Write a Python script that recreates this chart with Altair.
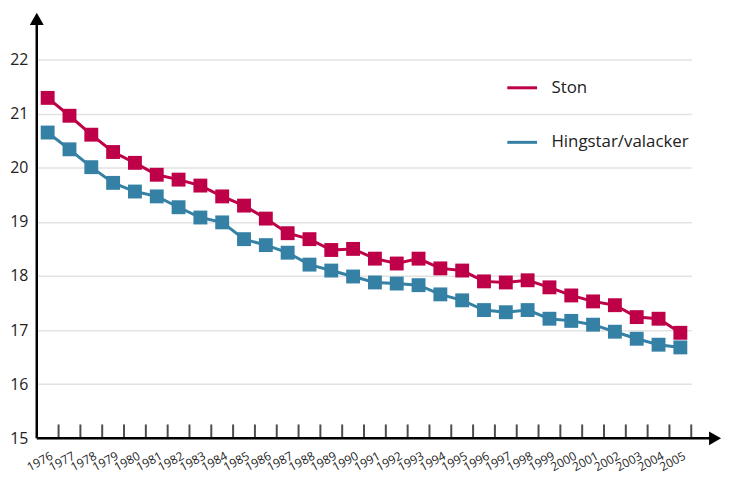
import altair as alt
import pandas as pd

years = [str(y) for y in range(1976, 2006)]
ston = [21.29, 20.96, 20.61, 20.29, 20.09, 19.87, 19.78, 19.67, 19.47, 19.30,
        19.06, 18.79, 18.68, 18.48, 18.50, 18.32, 18.23, 18.32, 18.14, 18.10,
        17.90, 17.88, 17.92, 17.79, 17.64, 17.53, 17.46, 17.24, 17.21, 16.95]
hingst = [20.65, 20.34, 20.01, 19.72, 19.56, 19.47, 19.27, 19.08, 18.99, 18.68,
          18.57, 18.43, 18.21, 18.10, 17.99, 17.88, 17.86, 17.83, 17.66, 17.55,
          17.37, 17.33, 17.37, 17.21, 17.17, 17.10, 16.97, 16.84, 16.73, 16.68]
series = ["Ston", "Hingstar/valacker"]
colors = ["#BE0048", "#3580A5"]
y_ticks = [15, 16, 17, 18, 19, 20, 21, 22]

W, H = 660, 417
FONT = "Open Sans"

rows = []
for s, vals in zip(series, [ston, hingst]):
    for yr, v in zip(years, vals):
        rows.append({"year": yr, "value": v, "kon": s})
df = pd.DataFrame(rows)
ydf = pd.DataFrame({"year": years})
one = pd.DataFrame({"a": [0]})

x_enc = alt.X("year:O", sort=years,
              scale=alt.Scale(type="band", paddingInner=0, paddingOuter=0),
              axis=alt.Axis(title=None, labelAngle=-28, labelAlign="right",
                            labelBaseline="top", labelPadding=12, labelOffset=2,
                            ticks=False, domain=False, grid=False,
                            labelFontSize=12, labelColor="#222222", labelFont=FONT))
y_enc = alt.Y("value:Q",
              scale=alt.Scale(domain=[15, 22.64], nice=False, zero=False),
              axis=alt.Axis(title=None, values=y_ticks, format="d", ticks=False,
                            domain=False, labelPadding=9, labelFontSize=16,
                            labelColor="#222222", labelFont=FONT,
                            gridColor="#e2e2e2", gridWidth=1.5))
color_scale = alt.Scale(domain=series, range=colors)

lines = alt.Chart(df).mark_line(strokeWidth=3).encode(
    x=x_enc, y=y_enc,
    color=alt.Color("kon:N", scale=color_scale, sort=series,
                    legend=alt.Legend(orient="none", legendX=473, legendY=47,
                                      title=None, symbolType="stroke",
                                      symbolStrokeWidth=3, symbolSize=900,
                                      labelFontSize=17, labelFont=FONT,
                                      labelColor="#222222", labelOffset=13,
                                      rowPadding=30, padding=0)),
    detail="kon:N",
)
squares = alt.Chart(df).mark_square(size=196, opacity=1).encode(
    x=x_enc, y=y_enc,
    color=alt.Color("kon:N", scale=color_scale, legend=None),
)

ticks = alt.Chart(ydf).mark_tick(color="black", thickness=2, size=14,
                                 orient="vertical").encode(
    x=alt.X("year:O", sort=years, bandPosition=1),
    y=alt.value(H - 7),
)
yaxis_line = alt.Chart(one).mark_rule(color="black", strokeWidth=2.5).encode(
    x=alt.value(0), y=alt.value(0), y2=alt.value(H))
xaxis_line = alt.Chart(one).mark_rule(color="black", strokeWidth=2.5).encode(
    x=alt.value(0), x2=alt.value(680), y=alt.value(H))
arrow_up = alt.Chart(one).mark_point(shape="triangle-up", filled=True, color="black",
                                     opacity=1, size=196).encode(
    x=alt.value(0), y=alt.value(-6))
arrow_right = alt.Chart(one).mark_point(shape="triangle-right", filled=True, color="black",
                                        opacity=1, size=196).encode(
    x=alt.value(684), y=alt.value(H))

chart = alt.layer(lines, squares, ticks, yaxis_line, xaxis_line, arrow_up, arrow_right).properties(
    width=W, height=H,
    autosize=alt.AutoSizeParams(type="none"),
    padding={"left": 29, "top": 15, "right": 31, "bottom": 35},
).configure(font=FONT).configure_view(strokeOpacity=0, strokeWidth=0)

chart.save("out.html", embed_options={"renderer": "svg", "actions": False})
